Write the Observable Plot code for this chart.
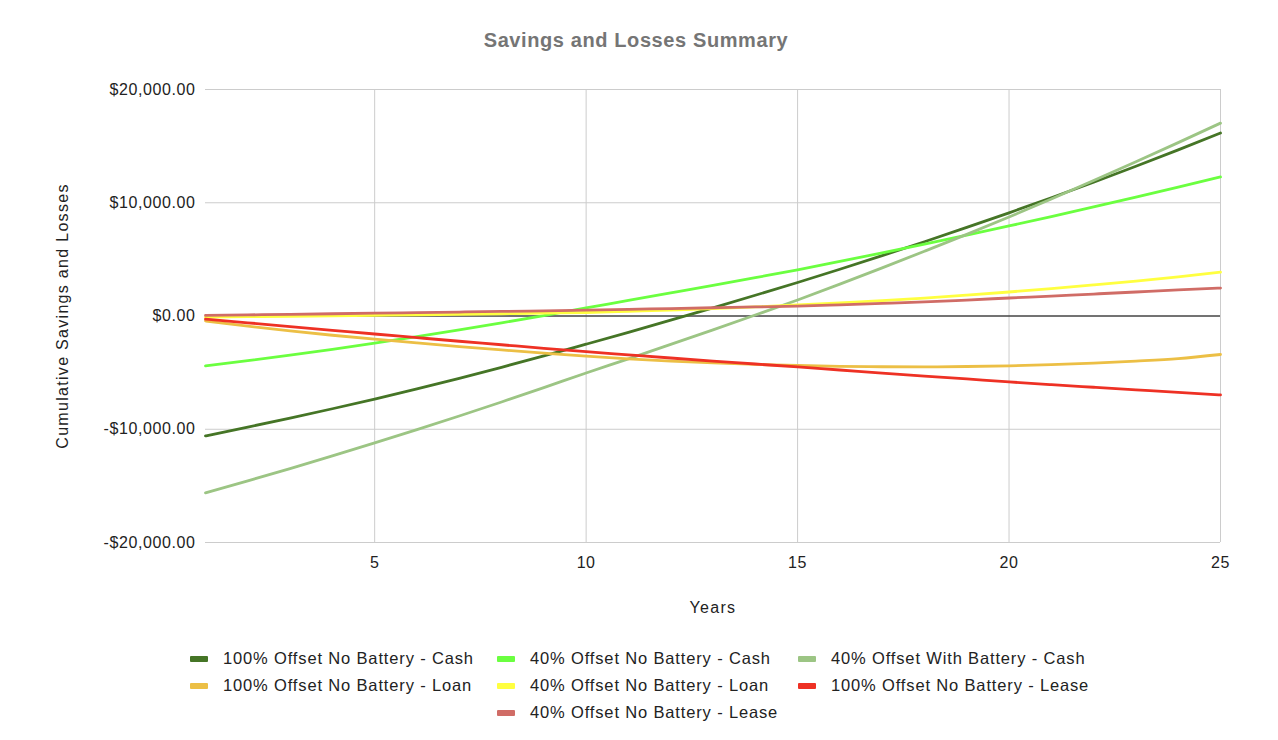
<!DOCTYPE html>
<html>
<head>
<meta charset="utf-8">
<script src="https://cdn.jsdelivr.net/npm/d3@7"></script>
<script src="https://cdn.jsdelivr.net/npm/@observablehq/plot@0.6"></script>
<style>
  body { margin: 0; background: #fff; font-family: "Liberation Sans", Arial, sans-serif; }
  #wrap { position: relative; width: 1278px; height: 740px; overflow: hidden; }
  #title { position: absolute; top: 29px; left: 0; width: 1272px; text-align: center; font-weight: bold; font-size: 20px; letter-spacing: 0.6px; color: #757575; }
  #chart { position: absolute; top: 0; left: 0; }
  .lg { position: absolute; font-size: 16.5px; letter-spacing: 0.85px; color: #222; white-space: nowrap; }
  .sw { position: absolute; width: 18px; height: 6px; border-radius: 1px; }
  #chart svg text { letter-spacing: 0.6px; }
  #chart svg g[aria-label="y-axis label"] text, #chart svg g[aria-label="x-axis label"] text { letter-spacing: 1.3px; }
</style>
</head>
<body>
<div id="wrap">
  <div id="chart"></div>
  <div id="title">Savings and Losses Summary</div>
  <div id="legend"></div>
</div>
<script>
const years = [1,2,3,4,5,6,7,8,9,10,11,12,13,14,15,16,17,18,19,20,21,22,23,24,25];

const seriesNames = [
  "100% Offset No Battery - Cash",
  "40% Offset No Battery - Cash",
  "40% Offset With Battery - Cash",
  "100% Offset No Battery - Loan",
  "40% Offset No Battery - Loan",
  "100% Offset No Battery - Lease",
  "40% Offset No Battery - Lease"
];
const seriesColors = ["#457526", "#6bff40", "#9cc584", "#ecbf45", "#ffff40", "#ee3124", "#d06c66"];

const cash100 = [-10590,-9810,-9010,-8190,-7340,-6440,-5500,-4530,-3530,-2490,-1440,-370,720,1830,2960,4130,5330,6560,7820,9110,10440,11810,13220,14670,16160];
const cash40 = [-4410,-3940,-3450,-2940,-2400,-1830,-1230,-610,40,710,1370,2035,2705,3385,4075,4815,5575,6350,7140,7950,8780,9630,10495,11375,12275];
const cashBattery40 = [-15620,-14560,-13470,-12350,-11210,-10040,-8830,-7590,-6320,-5030,-3780,-2510,-1220,85,1410,2810,4250,5720,7210,8740,10330,11960,13620,15310,17030];
const loan100 = [-440,-900,-1320,-1700,-2050,-2380,-2700,-3000,-3280,-3550,-3780,-3980,-4140,-4270,-4370,-4440,-4480,-4490,-4460,-4400,-4300,-4160,-3980,-3760,-3400];
const loan40 = [-100,-60,-20,20,60,100,150,200,250,310,420,530,650,800,970,1160,1360,1580,1840,2120,2420,2740,3080,3460,3880];
const lease100 = [-270,-600,-930,-1260,-1590,-1910,-2230,-2540,-2850,-3150,-3430,-3710,-3980,-4240,-4500,-4770,-5040,-5300,-5560,-5820,-6060,-6290,-6520,-6750,-6970];
const lease40 = [50,100,150,200,250,300,350,400,460,520,590,660,730,800,880,990,1110,1240,1410,1590,1760,1940,2120,2300,2470];

const seriesValues = [cash100, cash40, cashBattery40, loan100, loan40, lease100, lease40];
const xTicks = [5,10,15,20,25];
const yTicks = [-20000,-10000,0,10000,20000];

const rows = [];
seriesNames.forEach((name, i) => {
  years.forEach((yr, j) => rows.push({series: name, year: yr, value: seriesValues[i][j]}));
});

const money = v => (v < 0 ? "-" : "") + "$" + d3.format(",.2f")(Math.abs(v));

const plot = Plot.plot({
  width: 1278,
  height: 640,
  marginTop: 89,
  marginBottom: 98,
  marginLeft: 205,
  marginRight: 58,
  style: {fontFamily: "'Liberation Sans', Arial, sans-serif", fontSize: "16px", color: "#222", background: "#fff"},
  x: {domain: [1, 25], ticks: xTicks, label: "Years", labelArrow: "none", labelAnchor: "center", labelOffset: 70, tickSize: 0, tickPadding: 14},
  y: {domain: [-20000, 20000], ticks: yTicks, tickFormat: money, label: "Cumulative Savings and Losses", labelArrow: "none", labelAnchor: "center", labelOffset: 149, tickSize: 0, tickPadding: 10},
  color: {domain: seriesNames, range: seriesColors},
  marks: [
    Plot.gridX(xTicks, {stroke: "#cccccc", strokeOpacity: 1, strokeWidth: 1}),
    Plot.gridY(yTicks, {stroke: "#cccccc", strokeOpacity: 1, strokeWidth: 1}),
    Plot.ruleY([0], {stroke: "#000", strokeWidth: 1.2}),
    Plot.line(rows, {x: "year", y: "value", z: "series", stroke: "series", strokeWidth: 2.8, curve: "monotone-x"})
  ]
});
document.getElementById("chart").appendChild(plot);

// legend
const legendPos = [
  [190, 659], [497, 659], [798, 659],
  [190, 686], [497, 686], [798, 686],
  [497, 713]
];
const lg = document.getElementById("legend");
seriesNames.forEach((name, i) => {
  const [x, y] = legendPos[i];
  const sw = document.createElement("div");
  sw.className = "sw";
  sw.style.left = x + "px";
  sw.style.top = (y - 3) + "px";
  sw.style.background = seriesColors[i];
  lg.appendChild(sw);
  const t = document.createElement("div");
  t.className = "lg";
  t.style.left = (x + 33) + "px";
  t.style.top = (y - 10) + "px";
  t.textContent = name;
  lg.appendChild(t);
});
</script>
</body>
</html>
